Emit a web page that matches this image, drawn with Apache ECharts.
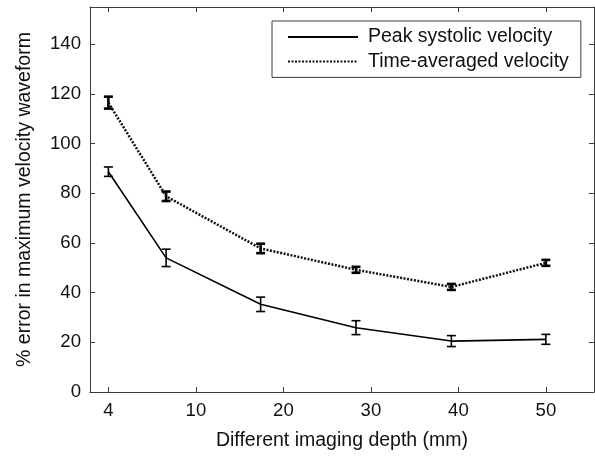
<!DOCTYPE html>
<html>
<head>
<meta charset="utf-8">
<script src="https://cdn.jsdelivr.net/npm/echarts@6/dist/echarts.min.js"></script>
<style>
html,body{margin:0;padding:0;background:#fff;}
#chart{width:595px;height:456px;}
</style>
</head>
<body>
<div id="chart"></div>
<script>
// Tick labels on the x axis (equally spaced positions 0..5)
const tickLabels = ['4', '10', '20', '30', '40', '50'];
const tickPos = [0, 1, 2, 3, 4, 5];
// Measured x positions of the points, in tick-position units
const xPos = [0, 0.66, 1.74, 2.83, 3.92, 5.0];
// Peak systolic velocity: mean % error and error-bar half length
const psvMean = [88.7, 54.0, 35.3, 25.9, 20.5, 21.2];
const psvErr  = [1.9, 3.5, 2.9, 2.8, 2.2, 2.0];
// Time-averaged velocity: mean % error and error-bar half length
const tavMean = [116.5, 78.8, 57.8, 49.2, 42.3, 52.0];
const tavErr  = [2.4, 1.9, 1.9, 1.2, 1.2, 1.2];
const yTicks = [0, 20, 40, 60, 80, 100, 120, 140];

const FONT = '"Liberation Sans", Arial, Helvetica, sans-serif';
const AXC = '#3a3a3a';

function errRenderer(lw) {
  return function (params, api) {
    const x = api.value(0), m = api.value(1), e = api.value(2);
    const t = api.coord([x, m + e]);
    const b = api.coord([x, m - e]);
    const hw = 4.5;
    const style = { stroke: '#000', lineWidth: lw, fill: null };
    return {
      type: 'group',
      children: [
        { type: 'line', shape: { x1: t[0], y1: t[1], x2: b[0], y2: b[1] }, style: style },
        { type: 'line', shape: { x1: t[0] - hw, y1: t[1], x2: t[0] + hw, y2: t[1] }, style: style },
        { type: 'line', shape: { x1: b[0] - hw, y1: b[1], x2: b[0] + hw, y2: b[1] }, style: style }
      ]
    };
  };
}

const psvLine = xPos.map((x, i) => [x, psvMean[i]]);
const tavLine = xPos.map((x, i) => [x, tavMean[i]]);
const psvBars = xPos.map((x, i) => [x, psvMean[i], psvErr[i]]);
const tavBars = xPos.map((x, i) => [x, tavMean[i], tavErr[i]]);

const xBase = {
  type: 'value', min: -0.21, max: 5.55,
  splitLine: { show: false },
  axisLine: { show: true, onZero: false, lineStyle: { color: AXC, width: 1 } },
  axisTick: { show: true, inside: true, length: 5, customValues: tickPos, lineStyle: { color: AXC } }
};
const yBase = {
  type: 'value', min: 0, max: 155,
  splitLine: { show: false },
  axisLine: { show: true, onZero: false, lineStyle: { color: AXC, width: 1 } },
  axisTick: { show: true, inside: true, length: 5, customValues: yTicks, lineStyle: { color: AXC } }
};

const option = {
  animation: false,
  backgroundColor: '#fff',
  textStyle: { fontFamily: FONT },
  grid: { left: 90, right: 1, top: 7, bottom: 61 },
  xAxis: [
    Object.assign({}, xBase, {
      position: 'bottom',
      name: 'Different imaging depth (mm)',
      nameLocation: 'middle', nameGap: 39,
      nameTextStyle: { fontSize: 19.5, color: '#111', fontFamily: FONT },
      axisLabel: {
        show: true, customValues: tickPos, margin: 9,
        fontSize: 18.6, color: '#111', fontFamily: FONT,
        formatter: v => tickLabels[Math.round(v)]
      }
    }),
    Object.assign({}, xBase, { position: 'top', axisLabel: { show: false } })
  ],
  yAxis: [
    Object.assign({}, yBase, {
      position: 'left',
      name: '% error in maximum velocity waveform',
      nameLocation: 'middle', nameGap: 55,
      nameTextStyle: { fontSize: 19.5, color: '#111', fontFamily: FONT },
      axisLabel: {
        show: true, customValues: yTicks, margin: 9,
        fontSize: 18.6, color: '#111', fontFamily: FONT
      }
    }),
    Object.assign({}, yBase, { position: 'right', axisLabel: { show: false } })
  ],
  legend: {
    orient: 'vertical',
    left: 272, top: 21,
    padding: [6, 12, 6, 15],
    itemWidth: 70, itemHeight: 14, itemGap: 4.4,
    backgroundColor: '#fff',
    borderColor: AXC, borderWidth: 1,
    itemStyle: { opacity: 0 },
    textStyle: { fontSize: 19.5, color: '#111', fontFamily: FONT, lineHeight: 20, padding: [0, 0, 0, 5] },
    data: ['Peak systolic velocity', 'Time-averaged velocity']
  },
  series: [
    {
      name: 'Peak systolic velocity', type: 'line',
      data: psvLine, symbol: 'none',
      lineStyle: { color: '#000', width: 1.6, type: 'solid' },
      itemStyle: { color: '#000' }
    },
    {
      name: 'Time-averaged velocity', type: 'line',
      data: tavLine, symbol: 'none',
      lineStyle: { color: '#111', width: 2.5, type: [2, 1.5] },
      itemStyle: { color: '#111' }
    },
    {
      type: 'custom', renderItem: errRenderer(1.6),
      data: psvBars, encode: { x: 0, y: 1 }, silent: true
    },
    {
      type: 'custom', renderItem: errRenderer(2.6),
      data: tavBars, encode: { x: 0, y: 1 }, silent: true
    }
  ]
};

const chart = echarts.init(document.getElementById('chart'), null, { renderer: 'canvas' });
chart.setOption(option);
</script>
</body>
</html>
